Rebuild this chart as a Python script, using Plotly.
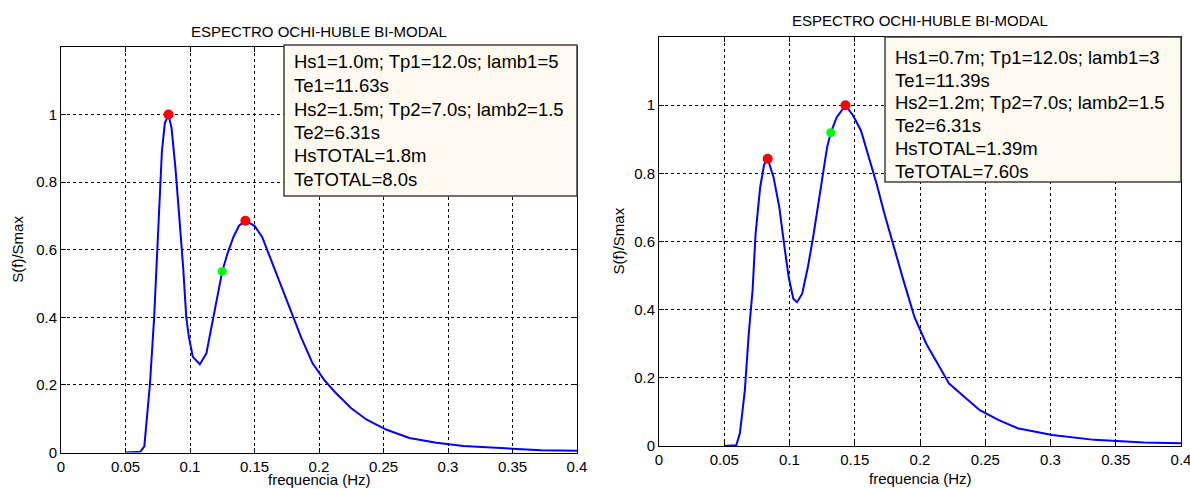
import plotly.graph_objects as go

# ---------------- data ----------------
title_text = "ESPECTRO OCHI-HUBLE BI-MODAL"
x_label = "frequencia (Hz)"
y_label = "S(f)/Smax"

x_tick_vals = [0, 0.05, 0.1, 0.15, 0.2, 0.25, 0.3, 0.35, 0.4]
x_tick_text = ["0", "0.05", "0.1", "0.15", "0.2", "0.25", "0.3", "0.35", "0.4"]
y_tick_vals = [0, 0.2, 0.4, 0.6, 0.8, 1.0]
y_tick_text = ["0", "0.2", "0.4", "0.6", "0.8", "1"]

# left panel
freq_left = [0.05, 0.0615, 0.0646, 0.069, 0.0722, 0.0746, 0.0761, 0.0782, 0.0805,
             0.0833, 0.0857, 0.0887, 0.0917, 0.0947, 0.0971, 0.0992, 0.1022, 0.1076,
             0.1127, 0.1172, 0.1206, 0.125, 0.129, 0.1336, 0.138, 0.1429, 0.150,
             0.156, 0.162, 0.168, 0.177, 0.186, 0.195, 0.204, 0.213, 0.225, 0.237,
             0.252, 0.270, 0.291, 0.312, 0.342, 0.372, 0.4]
spec_left = [0, 0.002, 0.018, 0.205, 0.40, 0.588, 0.745, 0.89, 0.975,
             1.0, 0.96, 0.843, 0.696, 0.548, 0.40, 0.34, 0.283, 0.261,
             0.293, 0.382, 0.45, 0.536, 0.588, 0.637, 0.671, 0.686, 0.671,
             0.637, 0.578, 0.519, 0.431, 0.342, 0.264, 0.215, 0.176, 0.131, 0.097,
             0.068, 0.043, 0.029, 0.019, 0.012, 0.007, 0.005]
peaks_left_f = [0.0833, 0.1429]
peaks_left_s = [1.0, 0.686]
te_left_f = [0.125]
te_left_s = [0.536]
info_left = ["Hs1=1.0m; Tp1=12.0s; lamb1=5", "Te1=11.63s",
             "Hs2=1.5m; Tp2=7.0s; lamb2=1.5", "Te2=6.31s",
             "HsTOTAL=1.8m", "TeTOTAL=8.0s"]

# right panel
freq_right = [0.05, 0.0592, 0.062, 0.0658, 0.0688, 0.0717, 0.074, 0.0775, 0.0805,
              0.0833, 0.0878, 0.0922, 0.0965, 0.0994, 0.1029, 0.1058, 0.1097, 0.1141,
              0.1185, 0.1223, 0.1264, 0.1288, 0.1316, 0.1361, 0.1429, 0.1488, 0.1548,
              0.1608, 0.1668, 0.1728, 0.1785, 0.1873, 0.1958, 0.2048, 0.2106, 0.2223,
              0.2341, 0.2458, 0.2604, 0.2748, 0.3013, 0.3336, 0.3716, 0.4]
spec_right = [0, 0.002, 0.037, 0.164, 0.33, 0.457, 0.622, 0.759, 0.825,
              0.843, 0.788, 0.70, 0.574, 0.495, 0.432, 0.422, 0.447, 0.525,
              0.622, 0.72, 0.827, 0.876, 0.919, 0.964, 1.0, 0.969, 0.925,
              0.847, 0.769, 0.681, 0.603, 0.486, 0.378, 0.30, 0.261, 0.183,
              0.144, 0.105, 0.076, 0.052, 0.032, 0.018, 0.010, 0.008]
peaks_right_f = [0.0833, 0.1429]
peaks_right_s = [0.843, 1.0]
te_right_f = [0.1316]
te_right_s = [0.919]
info_right = ["Hs1=0.7m; Tp1=12.0s; lamb1=3", "Te1=11.39s",
              "Hs2=1.2m; Tp2=7.0s; lamb2=1.5", "Te2=6.31s",
              "HsTOTAL=1.39m", "TeTOTAL=7.60s"]

# ---------------- figure ----------------
W, H = 1190, 489
FONT = "Liberation Sans, Arial, Helvetica, sans-serif"

fig = go.Figure()

panels = [
    dict(xa="x", ya="y", f=freq_left, s=spec_left, pf=peaks_left_f, ps=peaks_left_s,
         tf=te_left_f, ts=te_left_s, info=info_left,
         px=(61, 577), py=(47, 452.5), title_y=31, xlab_y=479, ylab_x=18,
         box=(284, 577, 45, 196), text_x=292, text_y0=62, text_dy=23.5),
    dict(xa="x2", ya="y2", f=freq_right, s=spec_right, pf=peaks_right_f, ps=peaks_right_s,
         tf=te_right_f, ts=te_right_s, info=info_right,
         px=(659, 1181), py=(37, 446), title_y=21, xlab_y=478, ylab_x=618,
         box=(885, 1181, 37, 182), text_x=893, text_y0=57.5, text_dy=22.7),
]

annotations = []
shapes = []
for i, p in enumerate(panels):
    fig.add_trace(go.Scatter(x=p["f"], y=p["s"], mode="lines", xaxis=p["xa"], yaxis=p["ya"],
                             line=dict(color="#0000ff", width=2), showlegend=False,
                             hoverinfo="skip"))
    fig.add_trace(go.Scatter(x=p["pf"], y=p["ps"], mode="markers", xaxis=p["xa"], yaxis=p["ya"],
                             marker=dict(color="#ff0000", size=10), showlegend=False,
                             hoverinfo="skip"))
    fig.add_trace(go.Scatter(x=p["tf"], y=p["ts"], mode="markers", xaxis=p["xa"], yaxis=p["ya"],
                             marker=dict(color="#00ff00", size=9), showlegend=False,
                             hoverinfo="skip"))

    x0, x1 = p["px"]
    yt, yb = p["py"]
    axis_common = dict(showline=True, linecolor="black", linewidth=1, mirror="ticks",
                       ticks="inside", ticklen=5, tickcolor="black",
                       showgrid=True, gridcolor="black", gridwidth=1, griddash="3px,3px",
                       zeroline=False, fixedrange=True, automargin=False,
                       ticklabeloverflow="allow",
                       tickfont=dict(family=FONT, size=15, color="black"))
    xname = "xaxis" if i == 0 else "xaxis2"
    yname = "yaxis" if i == 0 else "yaxis2"
    fig.update_layout(**{
        xname: dict(axis_common, domain=[x0 / W, x1 / W], range=[0, 0.4],
                    tickvals=x_tick_vals, ticktext=x_tick_text,
                    anchor=p["ya"]),
        yname: dict(axis_common, domain=[1 - yb / H, 1 - yt / H], range=[0, 1.2],
                    tickvals=y_tick_vals, ticktext=y_tick_text,
                    anchor=p["xa"]),
    })

    # info box
    bx0, bx1, by0, by1 = p["box"]
    shapes.append(dict(type="rect", xref="paper", yref="paper",
                       x0=bx0 / W, x1=bx1 / W, y0=1 - by1 / H, y1=1 - by0 / H,
                       fillcolor="#fffaf0", line=dict(color="#404040", width=1.5),
                       layer="above"))
    for k, line in enumerate(p["info"]):
        annotations.append(dict(xref="paper", yref="paper", x=p["text_x"] / W,
                                y=1 - (p["text_y0"] + k * p["text_dy"]) / H,
                                xanchor="left", yanchor="middle", showarrow=False,
                                text=line, font=dict(family=FONT, size=18.5, color="black")))
    # title
    annotations.append(dict(xref="paper", yref="paper", x=(x0 + x1) / 2 / W,
                            y=1 - p["title_y"] / H, xanchor="center", yanchor="middle",
                            showarrow=False, text=title_text,
                            font=dict(family=FONT, size=15, color="black")))
    # axis labels
    annotations.append(dict(xref="paper", yref="paper", x=(x0 + x1) / 2 / W,
                            y=1 - p["xlab_y"] / H, xanchor="center", yanchor="middle",
                            showarrow=False, text=x_label,
                            font=dict(family=FONT, size=15, color="black")))
    annotations.append(dict(xref="paper", yref="paper", x=p["ylab_x"] / W,
                            y=1 - ((yt + yb) / 2) / H, xanchor="center", yanchor="middle",
                            showarrow=False, text=y_label, textangle=-90,
                            font=dict(family=FONT, size=15, color="black")))

fig.update_layout(width=W, height=H, margin=dict(l=0, r=0, t=0, b=0, pad=0),
                  paper_bgcolor="white", plot_bgcolor="white",
                  annotations=annotations, shapes=shapes, hovermode=False,
                  font=dict(family=FONT, color="black"))

fig.write_html("out.html", config={"displayModeBar": False},
               post_script="document.body.style.margin='0';document.body.style.overflow='hidden';")
